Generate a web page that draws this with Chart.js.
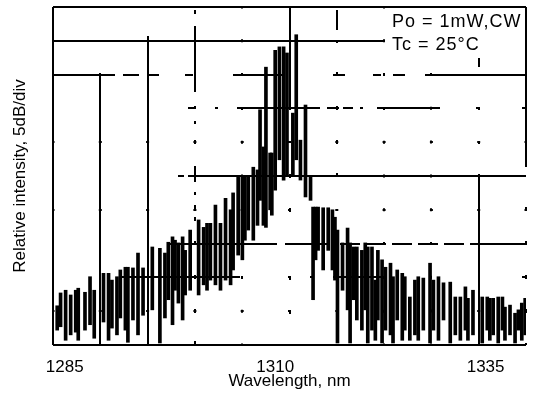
<!DOCTYPE html>
<html>
<head>
<meta charset="utf-8">
<script src="https://cdn.jsdelivr.net/npm/chart.js@4"></script>
<style>
  html, body { margin: 0; padding: 0; background: #fff; }
  canvas { display: block; }
</style>
</head>
<body>
<canvas id="spectrum" width="560" height="403"></canvas>
<script>
// Longitudinal modes (nm)
const modeWl = [
  1284.1, 1284.5, 1285.1, 1285.7, 1286.3, 1286.6, 1287.4, 1288.0, 1288.5, 1289.6,
  1290.2, 1290.6, 1291.2, 1291.6, 1292.2, 1292.5, 1293.1, 1293.7, 1294.3, 1295.4,
  1296.3, 1296.9, 1297.3, 1297.8, 1298.1, 1298.5, 1299.0, 1299.3, 1299.9, 1300.9,
  1301.5, 1301.9, 1302.3, 1302.9, 1303.5, 1304.1, 1304.7, 1305.0, 1305.6, 1306.1,
  1306.4, 1306.8, 1307.4, 1307.9, 1308.2, 1308.6, 1308.9, 1309.4, 1309.6, 1310.0,
  1310.5, 1311.0, 1311.4, 1312.1, 1312.5, 1313.0, 1313.6, 1314.2, 1314.5, 1314.8,
  1315.1, 1315.7, 1316.3, 1316.8, 1317.1, 1317.4, 1318.0, 1318.6, 1318.9, 1319.3,
  1319.7, 1320.3, 1320.7, 1321.0, 1321.5, 1321.9, 1322.2, 1322.7, 1323.1, 1323.7,
  1324.0, 1324.5, 1325.1, 1325.4, 1326.0, 1326.6, 1327.0, 1327.6, 1328.4, 1328.8,
  1329.4, 1330.0, 1330.8, 1331.4, 1332.0, 1332.6, 1332.9, 1333.5, 1334.6, 1335.2,
  1335.5, 1335.9, 1336.5, 1337.0, 1337.3, 1337.9, 1338.5, 1338.9, 1339.3, 1339.7
];
// peak of each mode, dB below the top of the screen
const modeTop = [
  -44.2, -42.3, -41.9, -42.6, -41.9, -41.6, -42.2, -39.9, -41.9, -39.4,
  -39.4, -40.4, -39.9, -38.9, -38.5, -38.5, -38.6, -36.4, -38.6, -35.5,
  -35.7, -36.4, -34.8, -34.0, -34.5, -34.9, -34.0, -36.0, -33.0, -31.5,
  -32.6, -32.0, -32.0, -29.3, -32.0, -28.3, -30.0, -27.5, -25.2, -24.9,
  -25.2, -25.2, -23.7, -24.1, -15.2, -20.7, -8.9, -21.6, -21.6, -6.4,
  -5.9, -5.9, -6.8, -15.7, -4.1, -19.7, -14.5, -25.2, -29.6, -29.6,
  -29.6, -29.7, -29.7, -30.0, -31.1, -33.0, -34.9, -32.7, -34.9, -35.5,
  -35.5, -36.0, -34.9, -35.5, -35.5, -40.4, -36.0, -37.4, -38.5, -37.9,
  -39.9, -38.9, -39.4, -39.9, -42.9, -40.4, -39.9, -40.1, -37.9, -40.4,
  -39.9, -40.8, -40.7, -42.9, -42.9, -41.4, -43.1, -41.9, -42.9, -42.9,
  -43.1, -43.1, -42.9, -42.9, -44.4, -44.1, -45.3, -44.8, -43.8, -43.1
];
// level the trace falls back to beside each mode
const modeFloor = [
  -47.8, -47.3, -49.3, -48.5, -48.1, -49.3, -47.8, -47.0, -49.0, -46.6,
  -49.3, -47.5, -48.5, -46.0, -47.8, -49.6, -46.3, -48.5, -45.6, -44.8,
  -49.7, -46.0, -43.3, -47.0, -41.9, -43.8, -46.3, -42.6, -41.9, -42.6,
  -41.1, -41.9, -40.4, -41.1, -41.9, -40.4, -41.1, -38.9, -36.7, -37.4,
  -34.5, -33.0, -34.5, -32.3, -28.6, -32.3, -32.6, -30.0, -30.8, -27.1,
  -22.6, -25.6, -24.9, -24.9, -22.6, -25.6, -28.1, -28.6, -43.3, -37.4,
  -36.0, -38.9, -36.0, -38.9, -40.4, -49.7, -41.9, -44.8, -49.7, -43.3,
  -46.3, -47.8, -44.8, -49.7, -47.8, -49.3, -46.3, -49.7, -47.8, -48.5,
  -49.7, -46.3, -49.3, -47.8, -49.3, -48.5, -49.3, -47.8, -49.7, -47.8,
  -49.3, -46.3, -49.7, -48.5, -49.3, -47.8, -49.3, -48.5, -49.7, -47.8,
  -49.3, -48.5, -49.7, -47.8, -49.3, -48.5, -49.7, -47.8, -49.3, -48.5
];

const xTickValues = [1285, 1310, 1335];
const noteLines = ["Po = 1mW,CW", "Tc = 25°C"];

// The grid came out of the scan patchy: some rules solid, others just dashes or dots.
// Horizontal patterns run left->right, vertical ones top->bottom.
const DOTS_H = [3, 44.3];
const DOTS_V = [3, 30.8];
const hRule = [
  [],
  DOTS_H,
  [0, 67, 120, 48, 3, 19, 3, 20, 54, 135, 4, 100],
  [0, 114, 110, 8, 45, 10, 20, 6, 20, 6, 20, 6, 20, 6, 20, 6, 200, 0],
  DOTS_H,
  [0, 125, 6, 4, 400, 0],
  DOTS_H,
  [0, 135, 7, 20, 3, 19, 83, 7, 12, 4, 10, 7, 3, 14, 63, 36, 4, 42, 4, 100],
  [62, 8, 16, 10, 10, 26, 8, 40, 50, 50, 12, 28, 8, 12, 12, 20, 200, 0],
  [330, 200],
  []
];
const vRule = [
  [],
  [0, 66, 400, 0],
  [0, 29, 400, 0],
  [0, 3, 4, 12, 66, 14, 3, 12, 3, 16, 4, 22, 16, 10, 3, 10, 4, 8, 4, 20, 4, 30, 4, 30, 4, 28, 4, 10],
  DOTS_V,
  [103, 64, 4, 30, 4, 64, 4, 30, 4, 30, 4, 100],
  [0, 3, 20, 10, 3, 29, 3, 31, 4, 30, 4, 29, 4, 400],
  DOTS_V,
  [0, 66, 3, 30.8, 3, 30.8, 3, 30.8, 3, 30.8, 3, 30.8, 3, 30.8, 3, 30.8, 3, 30.8, 3, 100],
  [0, 51, 9, 40, 3, 31, 3, 30, 400, 0],
  [160, 40, 4, 30, 4, 30, 4, 30, 4, 30, 100, 0]
];

const FONT = "'Liberation Sans', Arial, sans-serif";

// Po / Tc note in the top right corner
const notePlugin = {
  id: "note",
  afterDraw(chart) {
    const { ctx, chartArea } = chart;
    ctx.save();
    ctx.fillStyle = "#000";
    ctx.font = "18px " + FONT;
    ctx.letterSpacing = "1px";
    ctx.textBaseline = "top";
    noteLines.forEach((t, i) => ctx.fillText(t, chartArea.right - 134, chartArea.top + 6 + i * 23));
    ctx.restore();
  }
};

const modes = modeWl.map((wl, i) => ({ x: wl, y: [modeFloor[i], modeTop[i]] }));

new Chart(document.getElementById("spectrum"), {
  type: "bar",
  data: {
    datasets: [{
      data: modes,
      backgroundColor: "#000",
      borderWidth: 0,
      barThickness: 3
    }]
  },
  plugins: [notePlugin],
  options: {
    responsive: false,
    animation: false,
    devicePixelRatio: 1,
    layout: { padding: { left: 6, right: 34, top: 7, bottom: 13 } },
    plugins: { legend: { display: false }, tooltip: { enabled: false } },
    scales: {
      x: {
        type: "linear",
        min: 1283.6,
        max: 1339.8,
        offset: false,
        afterBuildTicks: axis => { axis.ticks = xTickValues.map(v => ({ value: v })); },
        grid: { display: false, drawTicks: false, offset: false },
        border: { display: false },
        ticks: {
          color: "#000", padding: 13.5, maxRotation: 0,
          font: { family: FONT, size: 17, lineHeight: 1 },
          callback: v => String(v)
        },
        title: {
          display: true, text: "Wavelength, nm", color: "#000",
          font: { family: FONT, size: 17, lineHeight: 1 }, padding: { top: -16, bottom: 0 }
        }
      },
      // 10 divisions across the screen, drawn as the vertical rules
      xg: {
        type: "linear",
        position: "top",
        min: 0, max: 10,
        offset: false,
        ticks: { display: false, stepSize: 1 },
        grid: { color: "#000", lineWidth: 2, drawTicks: false, offset: false },
        border: {
          display: false,
          dash: c => vRule[c.index] || [],
          dashOffset: c => (vRule[c.index] === DOTS_V ? 1.5 : 0)
        }
      },
      y: {
        min: -50, max: 0,
        ticks: { display: false, stepSize: 5 },
        grid: { color: "#000", lineWidth: 2, drawTicks: false },
        border: {
          display: false,
          dash: c => hRule[c.index] || [],
          dashOffset: c => (hRule[c.index] === DOTS_H ? 1.5 : 0)
        },
        title: {
          display: true, text: "Relative intensity, 5dB/div", color: "#000",
          font: { family: FONT, size: 17, lineHeight: 1.2 }, padding: { top: 4, bottom: 22.6 }
        }
      }
    }
  }
});
</script>
</body>
</html>
